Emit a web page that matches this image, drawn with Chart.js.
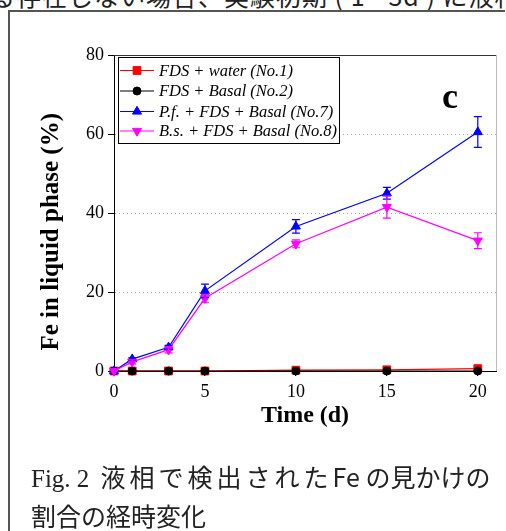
<!DOCTYPE html>
<html><head><meta charset="utf-8">
<script src="https://cdn.jsdelivr.net/npm/chart.js@4.4.0/dist/chart.umd.min.js"></script>
<style>
html,body{margin:0;padding:0;background:#fff;width:506px;height:531px;overflow:hidden;position:relative;}
#frame{position:absolute;left:8px;top:10px;width:495px;height:540px;border-left:2px solid #555;border-top:2px solid #555;}
#toptext{position:absolute;left:-10px;top:-17px;font-family:"Noto Sans CJK JP";font-size:25px;line-height:25px;white-space:nowrap;color:#222;letter-spacing:1px;}
#cap{position:absolute;left:31px;top:458px;font-size:25px;line-height:36px;color:#222;font-family:"Noto Sans CJK JP";white-space:nowrap;}
#cap .fig{font-family:"Liberation Serif";}
#cap .sp{letter-spacing:4px;}
#panel{position:absolute;left:442px;top:78px;font-family:"Liberation Serif";font-weight:bold;font-size:36px;line-height:36px;color:#000;}
#c{position:absolute;left:0;top:0;}
</style></head>
<body>
<div id="toptext">る存在しない場合、実験初期 ( 1 - 3d ) に液相</div>
<div id="frame"></div>
<canvas id="c" width="506" height="531"></canvas>
<div id="panel">c</div>
<div id="cap"><span class="fig">Fig. 2</span>&nbsp;&nbsp;<span class="sp">液相で検出された</span>Fe の見かけの<br>割合の経時変化</div>
<script>
const days=[0,1,3,5,10,15,20];
const seriesNames=['FDS + water (No.1)','FDS + Basal (No.2)','P.f. + FDS + Basal (No.7)','B.s. + FDS + Basal (No.8)'];
const waterFe=[0,0,0,0,0.2,0.3,0.6];
const basalFe=[0,0,0,0,0,0,0];
const pfFe=[0,3,6,20.3,36.6,45,60.5];
const pfErr=[0,0.3,0.5,1.7,1.7,1.5,3.9];
const bsFe=[0,2.3,5.4,18.4,32.2,41.5,33];
const bsErr=[0,0.5,0.8,1,1,2.8,2];
const xTicks=[0,5,10,15,20];
const yTicks=[0,20,40,60,80];

const pts=(vals)=>days.map((d,i)=>({x:d,y:vals[i]}));
const mk=(label,vals,color,style,radius,rotation,order,err)=>({
  label,data:pts(vals),borderColor:color,backgroundColor:color,borderWidth:1.2,
  pointStyle:style,pointRadius:radius,pointRotation:rotation,pointBorderWidth:1,
  pointBorderColor:color,pointBackgroundColor:color,order,errors:err,tension:0,clip:false
});
const datasets=[
  mk(seriesNames[0],waterFe,'#ff0000','rect',5.5,0,3,null),
  mk(seriesNames[1],basalFe,'#000000','circle',4,0,2,null),
  mk(seriesNames[2],pfFe,'#0000ff','triangle',5.2,0,1,pfErr),
  mk(seriesNames[3],bsFe,'#ff00ff','triangle',5.2,180,0,bsErr)
];

const errorBars={id:'errorBars',afterDatasetsDraw(chart){
  const ctx=chart.ctx,xs=chart.scales.x,ys=chart.scales.y;
  chart.data.datasets.forEach(ds=>{
    if(!ds.errors)return;
    ctx.save();ctx.strokeStyle=ds.borderColor;ctx.lineWidth=1.2;
    ds.data.forEach((p,i)=>{
      const e=ds.errors[i];if(!e)return;
      const x=xs.getPixelForValue(p.x),y1=ys.getPixelForValue(p.y+e),y2=ys.getPixelForValue(p.y-e);
      ctx.beginPath();ctx.moveTo(x,y1);ctx.lineTo(x,y2);
      ctx.moveTo(x-4,y1);ctx.lineTo(x+4,y1);ctx.moveTo(x-4,y2);ctx.lineTo(x+4,y2);ctx.stroke();
    });
    ctx.restore();
  });
}};

const frame={id:'frame',beforeDatasetsDraw(chart){
  const {ctx,chartArea:a}=chart;
  ctx.save();
  ctx.strokeStyle='#333';ctx.lineWidth=1;
  ctx.beginPath();ctx.moveTo(a.left,a.top+0.5);ctx.lineTo(a.right+1,a.top+0.5);ctx.stroke();
  ctx.strokeStyle='#bbb';
  ctx.beginPath();ctx.moveTo(a.right+0.5,a.top);ctx.lineTo(a.right+0.5,a.bottom);ctx.stroke();
  ctx.restore();
}};

const boxLegend={id:'boxLegend',afterDraw(chart){
  const {ctx,chartArea:a}=chart;
  const L=a.left+4,T=a.top+2,W=221,H=86;
  ctx.save();
  ctx.fillStyle='#fff';ctx.fillRect(L,T,W,H);
  ctx.strokeStyle='#000';ctx.lineWidth=1;ctx.strokeRect(L+0.5,T+0.5,W,H);
  const rows=[13.5,34,54.5,74];
  chart.data.datasets.forEach((ds,i)=>{
    const y=T+rows[i];
    ctx.strokeStyle=ds.borderColor;ctx.lineWidth=1.2;
    ctx.beginPath();ctx.moveTo(L+2,y);ctx.lineTo(L+36,y);ctx.stroke();
    ctx.fillStyle=ds.pointBackgroundColor;ctx.strokeStyle=ds.pointBorderColor;ctx.lineWidth=1;
    Chart.helpers.drawPoint(ctx,{pointStyle:ds.pointStyle,radius:ds.pointRadius,rotation:ds.pointRotation,borderWidth:1},L+19,y);
    ctx.fillStyle='#000';ctx.font='italic 16.5px "Liberation Serif"';ctx.textBaseline='middle';ctx.textAlign='left';
    ctx.fillText(ds.label,L+41,y+1);
  });
  ctx.restore();
}};

new Chart(document.getElementById('c'),{
  type:'line',
  data:{datasets},
  options:{
    responsive:false,animation:false,
    layout:{padding:{left:0,right:10,top:55,bottom:100}},
    plugins:{legend:{display:false},tooltip:{enabled:false},title:{display:false}},
    scales:{
      x:{type:'linear',min:0,max:21,
        afterBuildTicks:s=>{s.ticks=xTicks.map(v=>({value:v}));},
        afterFit:s=>{s.height=60;},
        ticks:{font:{family:'Liberation Serif',size:18},color:'#000',padding:5},
        grid:{drawOnChartArea:false,tickLength:5,tickColor:'#000',tickWidth:1},
        border:{display:true,color:'#000',width:1},
        title:{display:true,text:'Time (d)',color:'#000',font:{family:'Liberation Serif',size:24,weight:'bold',lineHeight:1.2},padding:{top:0,bottom:1}}
      },
      y:{type:'linear',min:0,max:80,
        afterBuildTicks:s=>{s.ticks=yTicks.map(v=>({value:v}));},
        afterFit:s=>{s.width=114;},
        ticks:{font:{family:'Liberation Serif',size:18},color:'#000',padding:4},
        grid:{color:c=>(c.tick&&(c.tick.value===0||c.tick.value===80))?'rgba(0,0,0,0)':'#aaa',
          tickLength:6,tickColor:'#000',tickWidth:1,tickBorderDash:[]},
        border:{display:true,color:'#000',width:1,dash:[1,3]},
        title:{display:true,text:'Fe in liquid phase (%)      ',color:'#000',font:{family:'Liberation Serif',size:25,weight:'bold',lineHeight:1.2},padding:{top:37,bottom:0}}
      }
    }
  },
  plugins:[frame,errorBars,boxLegend]
});
</script>
</body></html>
